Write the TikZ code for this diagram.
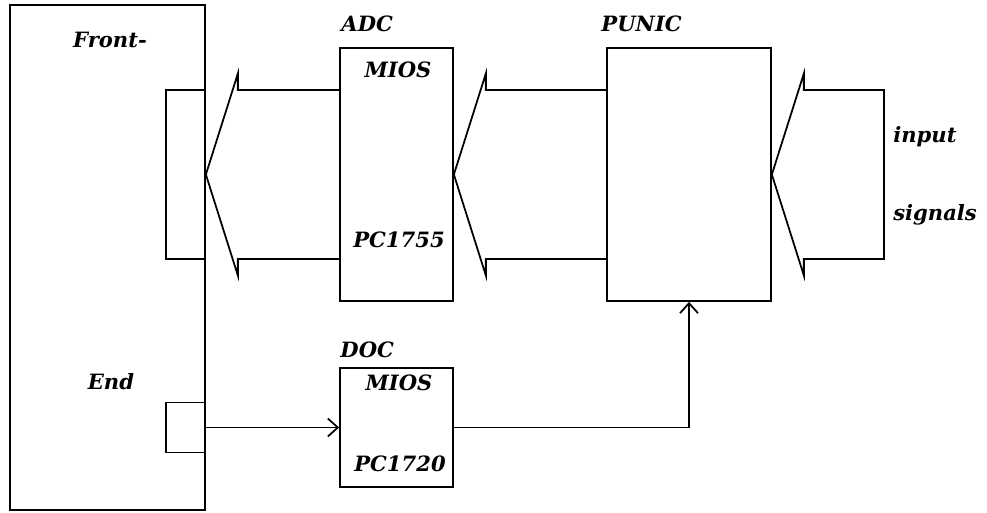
\documentclass[tikz,border=0pt]{standalone}
\usepackage{fontspec}
\setmainfont{DejaVu Serif}
\usepackage{tikz}
\usetikzlibrary{arrows.meta,positioning,calc}

\begin{document}
\begin{tikzpicture}[
    x=0.02cm, y=0.02cm,
    box/.style={draw, line width=1pt, inner sep=0pt, fill=white},
    txt/.style={font=\fontsize{12}{14}\selectfont\bfseries\itshape, inner sep=0pt},
    bigarr/.style={draw, line width=1pt, line join=miter},
    link/.style={-{Straight Barb[length=2mm, width=3.6mm]}, line width=1pt}
]
\useasboundingbox (0,0) rectangle (987,512);

\node[box, minimum width=3.9cm, minimum height=10.1cm] (fe) at (107.5,254.5) {};
\node[box, minimum width=0.78cm, minimum height=3.38cm] (portA) at (185.5,337.5) {};
\node[box, minimum width=0.78cm, minimum height=1.0cm] (portB) at (185.5,84.5) {};
\node[box, minimum width=2.26cm, minimum height=5.06cm] (adc) at (396.5,337.5) {};
\node[box, minimum width=3.28cm, minimum height=5.06cm] (punic) at (689,337.5) {};
\node[box, minimum width=2.26cm, minimum height=2.38cm] (doc) at (396.5,84.5) {};
\coordinate (src) at (884,337.5);

% labels
\node[txt, anchor=base] (front) at (110,465) {Front-};
\node[txt, anchor=base] (end) at (111,123) {End};
\node[txt, anchor=base west] (adcname) at ($(adc.north west)+(2,16)$) {ADC};
\node[txt, anchor=base west] (punicname) at ($(punic.north west)+(-5,16)$) {PUNIC};
\node[txt, anchor=base west] (docname) at ($(doc.north west)+(1,10)$) {DOC};
\node[txt, anchor=base] (adcmios) at (398,435) {MIOS};
\node[txt, anchor=base] (adcpc) at (399,265) {PC1755};
\node[txt, anchor=base] (docmios) at (399,122) {MIOS};
\node[txt, anchor=base] (docpc) at (400,41) {PC1720};
\node[txt, anchor=base west] (inp) at (893,370) {input};
\node[txt, anchor=base west] (sig) at (893,292) {signals};

% wide data paths
\draw[bigarr] ($(adc.west)+(0,84.5)$) -- ($(portA.east)+(32,84.5)$) -- ++(0,16.5)
    -- (portA.east) -- ++(32,-101) -- ++(0,16.5) -- ($(adc.west)+(0,-84.5)$);
\draw[bigarr] ($(punic.west)+(0,84.5)$) -- ($(adc.east)+(32,84.5)$) -- ++(0,16.5)
    -- (adc.east) -- ++(32,-101) -- ++(0,16.5) -- ($(punic.west)+(0,-84.5)$);
\draw[bigarr] ($(src)+(0,84.5)$) -- ($(punic.east)+(32,84.5)$) -- ++(0,16.5)
    -- (punic.east) -- ++(32,-101) -- ++(0,16.5) -- ($(src)+(0,-84.5)$) -- cycle;

% control lines
\draw[link] (portB.east) -- (doc.west);
\draw[link] (doc.east) -| (punic.south);
\end{tikzpicture}
\end{document}
